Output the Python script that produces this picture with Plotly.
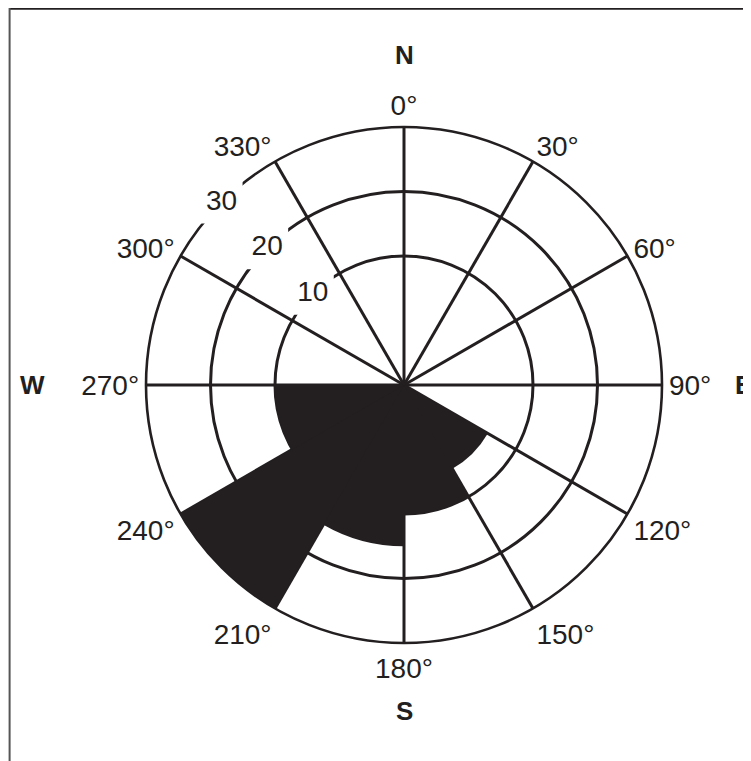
import plotly.graph_objects as go

# ---- data ----
sector_starts = [0, 30, 60, 90, 120, 150, 180, 210, 240, 270, 300, 330]
sector_values = [0, 0, 0, 0, 5, 10, 15, 30, 10, 0, 0, 0]
angle_ticks = [0, 30, 60, 90, 120, 150, 180, 210, 240, 270, 300, 330]
angle_labels = [f"{a}°" for a in angle_ticks]
ring_values = [10, 20, 30]
ring_labels = ["10", "20", "30"]
radial_min = -10
radial_max = 30
label_theta = 315
compass = ["N", "E", "S", "W"]

INK = "#231f20"
FONT = "Liberation Sans, Arial, Helvetica, sans-serif"

W, H = 751, 761
# page is offset by the 8px body margin; work in figure coordinates
cx, cy, R = 396, 377, 258

theta_c = [s + 15 for s, v in zip(sector_starts, sector_values) if v > 0]
lengths = [v - radial_min for v in sector_values if v > 0]

fig = go.Figure()
fig.add_trace(go.Barpolar(
    theta=theta_c, r=lengths, base=radial_min, width=30,
    marker=dict(color=INK, line=dict(width=0)),
    hoverinfo="skip", showlegend=False,
))
fig.add_trace(go.Scatterpolar(
    theta=[label_theta] * len(ring_values), r=ring_values,
    mode="markers+text", text=ring_labels, textposition="middle center",
    textfont=dict(family=FONT, size=28, color=INK),
    marker=dict(symbol="square", size=42, color="white", line=dict(width=0)),
    cliponaxis=False, hoverinfo="skip", showlegend=False,
))

fig.update_layout(
    width=W, height=H,
    margin=dict(l=0, r=0, t=0, b=0),
    paper_bgcolor="white",
    showlegend=False,
    polar=dict(
        domain=dict(x=[(cx - R) / W, (cx + R) / W],
                    y=[1 - (cy + R) / H, 1 - (cy - R) / H]),
        bgcolor="white",
        radialaxis=dict(
            range=[radial_min, radial_max],
            tickvals=ring_values,
            showticklabels=False, ticks="",
            showline=False,
            gridcolor=INK, gridwidth=2.6,
            layer="below traces",
        ),
        angularaxis=dict(
            direction="clockwise", rotation=90,
            tickvals=angle_ticks, ticktext=angle_labels,
            ticks="",
            tickfont=dict(family=FONT, size=28, color=INK),
            showline=True, linecolor=INK, linewidth=2.6,
            gridcolor=INK, gridwidth=2.6,
            layer="below traces",
        ),
    ),
)

pos = {"N": (396, 47), "E": (735, 377), "S": (396, 703), "W": (24, 377)}
for c in compass:
    x, y = pos[c]
    fig.add_annotation(x=x / W, y=1 - y / H, xref="paper", yref="paper",
                       text=f"<b>{c}</b>", showarrow=False,
                       font=dict(family=FONT, size=26, color=INK),
                       xanchor="center", yanchor="middle")

fig.add_shape(type="line", xref="paper", yref="paper",
              x0=1 / W, x1=1, y0=1 - 0.8 / H, y1=1 - 0.8 / H,
              line=dict(color=INK, width=2))
fig.add_shape(type="line", xref="paper", yref="paper",
              x0=1.6 / W, x1=1.6 / W, y0=0, y1=1,
              line=dict(color="#555555", width=2))

fig.write_html("out.html")
